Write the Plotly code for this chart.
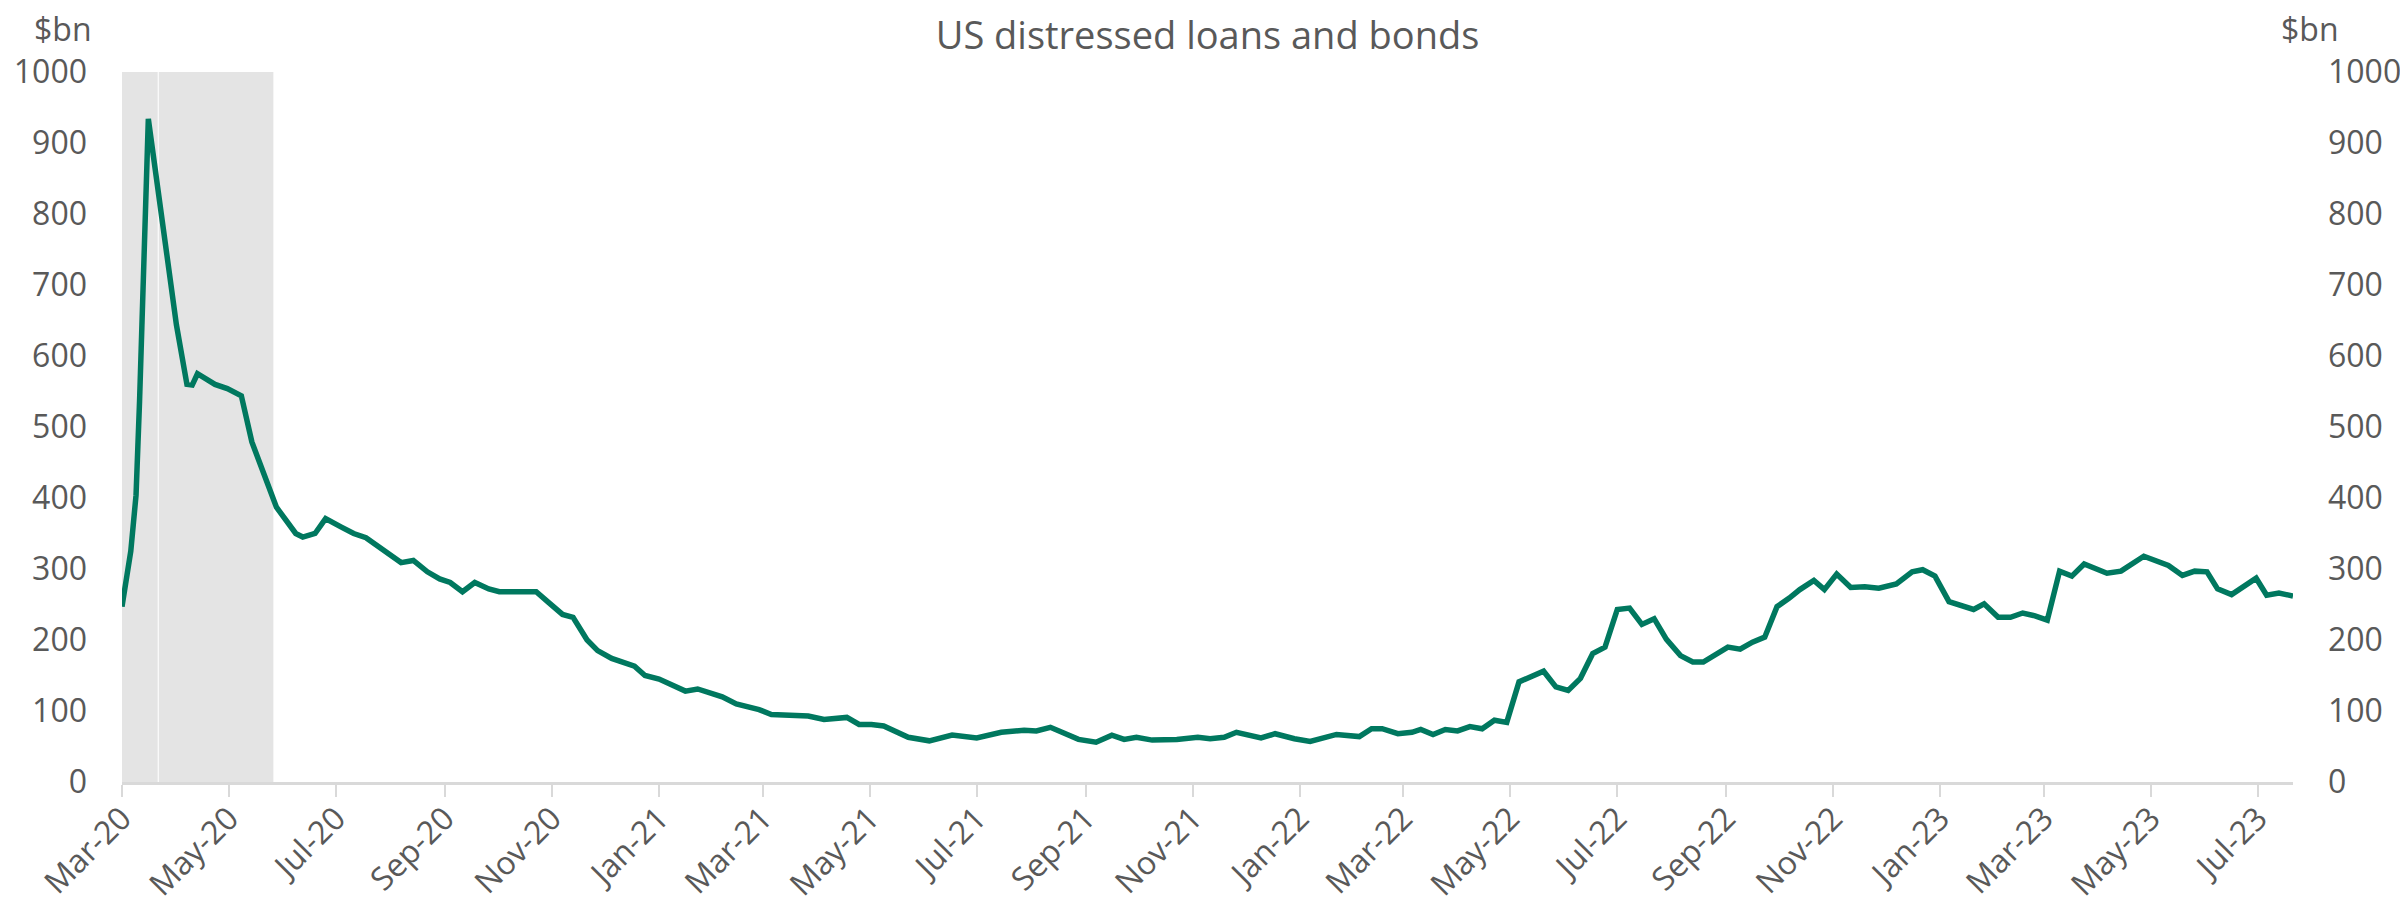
import pandas as pd
import plotly.graph_objects as go

# Datas em dias a partir de 1-mar-2020 e valores ($bn)
base_date = "2020-03-01"
day_offsets = [
    0, 5, 8, 10, 15, 26, 31, 37, 40, 43, 53, 60, 68, 74, 81, 88, 99, 103, 110, 116,
    125, 132, 139, 150, 159, 166, 174, 181, 187, 194, 201, 209, 215, 221, 229, 236,
    243, 251, 257, 265, 271, 279, 292, 298, 306, 321, 328, 342, 350, 363, 370, 384,
    391, 400, 413, 420, 427, 434, 442, 448, 460, 473, 487, 501, 514, 521, 529, 536,
    545, 555, 564, 571, 578, 587, 601, 613, 620, 628, 635, 649, 657, 668, 677, 692,
    705, 712, 718, 727, 735, 740, 747, 754, 761, 768, 775, 782, 789, 796, 803, 810,
    817, 824, 831, 838, 845, 852, 859, 866, 873, 880, 888, 895, 901, 907, 915, 922,
    929, 936, 943, 950, 956, 964, 970, 977, 985, 993, 1001, 1011, 1020, 1026, 1033,
    1041, 1048, 1055, 1061, 1069, 1076, 1083, 1090, 1097, 1104, 1111, 1118, 1131,
    1139, 1145, 1152, 1166, 1174, 1181, 1188, 1194, 1202, 1216, 1222, 1229, 1237,
]
distressed = [
    247, 325, 404, 536, 934, 741, 644, 560, 559, 575, 560, 554, 544, 479, 431, 387, 350, 345, 350, 371,
    359, 350, 344, 325, 309, 312, 296, 286, 281, 268, 281, 272, 268, 268, 267, 268,
    253, 236, 232, 200, 185, 174, 163, 150, 145, 128, 131, 120, 110, 102, 95, 94,
    93, 88, 91, 81, 81, 79, 71, 63, 58, 66, 62, 70, 73, 72, 77, 70,
    60, 56, 66, 60, 63, 59, 60, 63, 61, 63, 70, 62, 68, 61, 57, 67,
    64, 75, 75, 68, 70, 74, 67, 74, 72, 78, 75, 87, 84, 141, 148, 156,
    134, 129, 146, 181, 190, 243, 245, 222, 230, 201, 178, 169, 169, 178, 190, 187,
    197, 204, 247, 259, 271, 284, 271, 293, 274, 275, 273, 279, 296, 299, 290,
    254, 248, 243, 251, 232, 232, 238, 234, 228, 297, 290, 307, 294,
    297, 307, 318, 305, 291, 297, 296, 272, 264, 287, 263, 266, 262,
]

# Periodo sombreado (recessao)
shade_periods = [("2020-03-01", "2020-03-21 08:00"), ("2020-03-21 23:00", "2020-05-26 06:00")]
x_start, x_end = "2020-03-01", "2023-07-21"
y_ticks = list(range(0, 1001, 100))

GREEN = "#00785F"
GREY_TXT = "#595959"
GREY_LINE = "#D9D9D9"
FONT = "Open Sans"

# a pagina tem 8px de margem no body, por isso a figura fica 8px menor
W, H, PAD = 2408, 914, 8


def main():
    dates = pd.to_datetime(base_date) + pd.to_timedelta(day_offsets, unit="D")

    fig = go.Figure()
    fig.add_trace(go.Scatter(x=dates, y=distressed, mode="lines", name="US distressed",
                             line=dict(color=GREEN, width=5.5), showlegend=False))
    # traço invisivel so para mostrar o eixo da direita
    fig.add_trace(go.Scatter(x=dates, y=distressed, mode="lines", yaxis="y2",
                             line=dict(width=0), showlegend=False, hoverinfo="skip"))

    for x0, x1 in shade_periods:
        fig.add_shape(type="rect", xref="x", yref="y", x0=x0, x1=x1, y0=0, y1=1000,
                      fillcolor="#E4E4E4", line=dict(width=0), layer="below")

    yax = dict(range=[0, 1000], tickvals=y_ticks, showgrid=False, zeroline=False,
               showline=False, ticks="", ticklabelstandoff=34, automargin=False,
               tickfont=dict(size=32, color=GREY_TXT, family=FONT))

    fig.update_layout(
        width=W - PAD, height=H - PAD,
        margin=dict(l=122 - PAD, r=115, t=72 - PAD, b=132),
        plot_bgcolor="white", paper_bgcolor="white",
        title=dict(text="US distressed loans and bonds", x=0.5, xref="paper",
                   y=1 - (36 - PAD) / (H - PAD), yref="container", yanchor="middle",
                   font=dict(size=38, color=GREY_TXT, family=FONT)),
        xaxis=dict(type="date", range=[x_start, x_end], tick0="2020-03-01", dtick="M2",
                   tickformat="%b-%y", tickangle=-45, showgrid=False, zeroline=False,
                   showline=True, linecolor=GREY_LINE, linewidth=2.5, automargin=False,
                   ticks="outside", ticklen=12, tickwidth=2, tickcolor=GREY_LINE,
                   ticklabelstandoff=-10,
                   tickfont=dict(size=32, color=GREY_TXT, family=FONT)),
        yaxis=yax,
        yaxis2=dict(yax, overlaying="y", side="right"),
    )

    fig.add_annotation(text="$bn", xref="paper", yref="paper", x=(63 - 122) / 2171,
                       y=(782 - 28) / 710, xanchor="center", yanchor="middle",
                       showarrow=False, font=dict(size=32, color=GREY_TXT, family=FONT))
    fig.add_annotation(text="$bn", xref="paper", yref="paper", x=(2310 - 122) / 2171,
                       y=(782 - 28) / 710, xanchor="center", yanchor="middle",
                       showarrow=False, font=dict(size=32, color=GREY_TXT, family=FONT))

    fig.write_html("out.html")


if __name__ == "__main__":
    main()
